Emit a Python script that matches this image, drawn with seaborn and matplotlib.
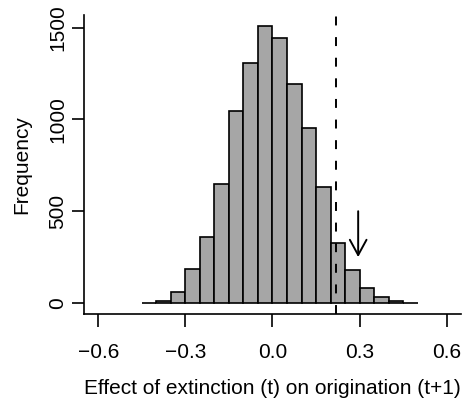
import matplotlib
matplotlib.use("Agg")
import matplotlib.pyplot as plt
import seaborn as sns
import numpy as np

# Histogram (bin width 0.05)
bin_edges = [-0.45, -0.40, -0.35, -0.30, -0.25, -0.20, -0.15, -0.10, -0.05, 0.00,
             0.05, 0.10, 0.15, 0.20, 0.25, 0.30, 0.35, 0.40, 0.45, 0.50]
counts = [2, 9, 58, 185, 361, 647, 1048, 1309, 1507, 1445,
          1193, 952, 634, 326, 181, 81, 31, 9, 2]

observed_effect = 0.217      # dashed line
arrow_x = 0.295              # arrow marker
arrow_from, arrow_to = 500, 250

x_ticks = [-0.6, -0.3, 0.0, 0.3, 0.6]
x_tick_labels = ["\u22120.6", "\u22120.3", "0.0", "0.3", "0.6"]
y_ticks = [0, 500, 1000, 1500]

sns.set_style("ticks")
plt.rcParams['font.family'] = ['Liberation Sans', 'DejaVu Sans']
plt.rcParams['font.size'] = 15
plt.rcParams['text.color'] = 'black'
plt.rcParams['axes.labelcolor'] = 'black'
plt.rcParams['xtick.color'] = 'black'
plt.rcParams['ytick.color'] = 'black'
plt.rcParams['axes.edgecolor'] = 'black'

fig = plt.figure(figsize=(4.67, 4.01), dpi=100)
ax = fig.add_axes([0.1805, 0.217, 0.806, 0.7446])

mids = (np.array(bin_edges[:-1]) + np.array(bin_edges[1:])) / 2
sns.histplot(x=mids, weights=counts, bins=bin_edges, ax=ax,
             color="#A6A6A6", edgecolor="black", linewidth=1.2, alpha=1)

ax.axvline(observed_effect, color="black", lw=1.4, linestyle=(0, (4.6, 6)))
ax.annotate("", xy=(arrow_x, arrow_to), xytext=(arrow_x, arrow_from),
            arrowprops=dict(arrowstyle="->,head_length=1.1,head_width=0.6",
                            mutation_scale=10, lw=1.4, color="black",
                            shrinkA=0, shrinkB=0))

ax.set_xlim(-0.648, 0.648)
ax.set_ylim(-60, 1567)
ax.set_xticks(x_ticks)
ax.set_xticklabels(x_tick_labels)
ax.set_yticks(y_ticks)
ax.set_yticklabels([str(v) for v in y_ticks], rotation=90, va="center")

for side in ["top", "right"]:
    ax.spines[side].set_visible(False)
for side in ["left", "bottom"]:
    ax.spines[side].set_linewidth(1.2)
ax.tick_params(axis="both", direction="out", length=9, width=1.2, labelsize=15)
ax.tick_params(axis="x", pad=12)
ax.tick_params(axis="y", pad=3.5)

ax.set_xlabel("Effect of extinction (t) on origination (t+1)", fontsize=15, labelpad=12)
ax.set_ylabel("Frequency", fontsize=15, labelpad=12)

fig.savefig("out.png", dpi=100)
